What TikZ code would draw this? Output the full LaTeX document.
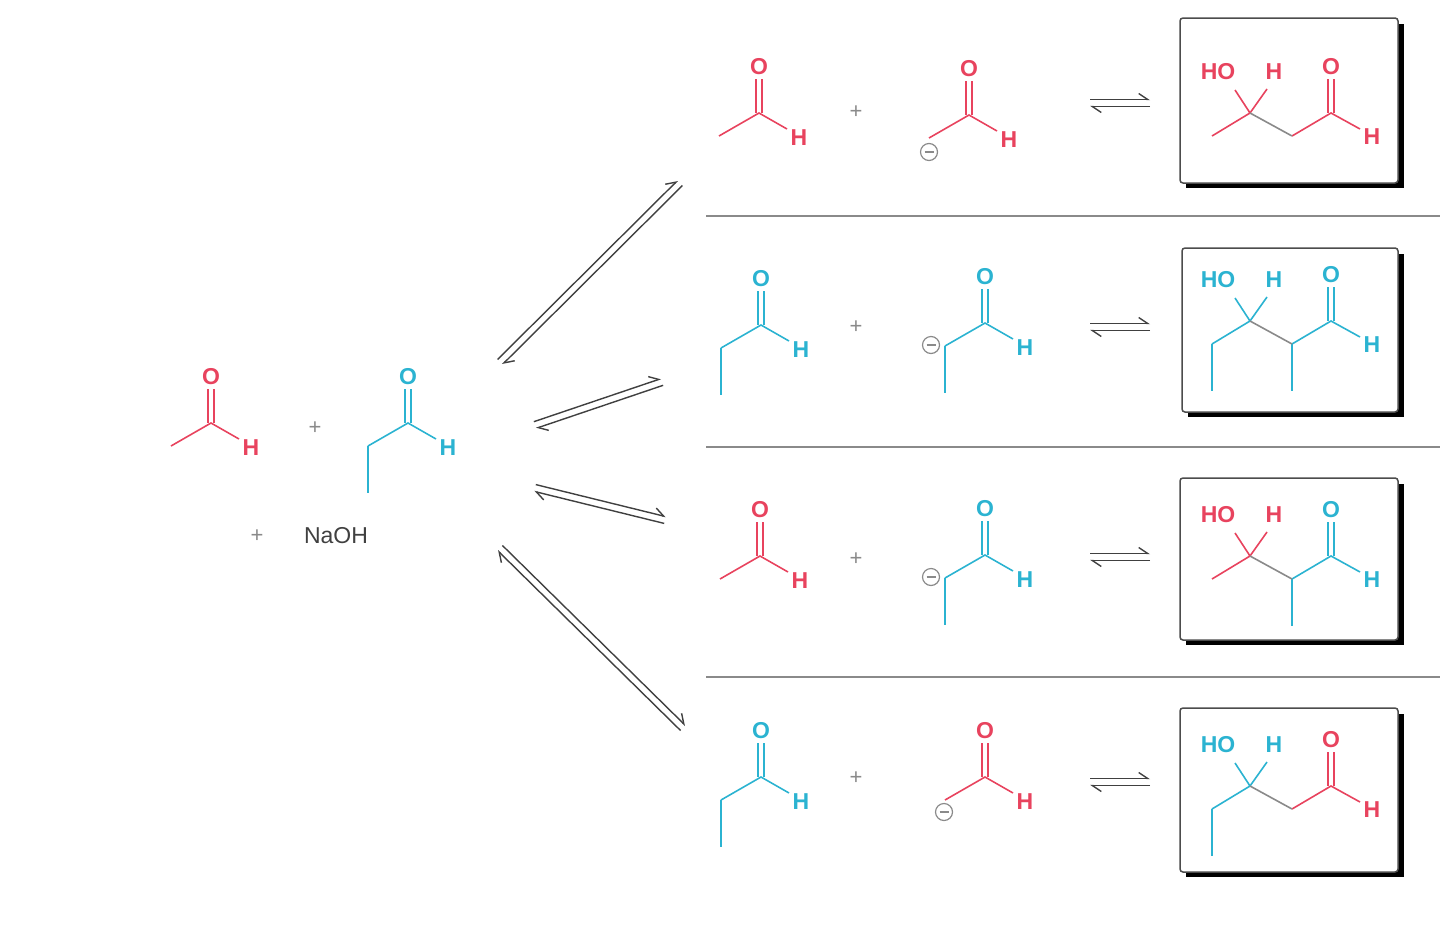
\documentclass[tikz,border=0pt]{standalone}
\usepackage{fontspec}
\setmainfont{Liberation Sans}
\usetikzlibrary{calc,arrows.meta}
\definecolor{mred}{HTML}{E8435E}
\definecolor{mcyan}{HTML}{2BB3D1}
\definecolor{lgray}{HTML}{8A8A8A}
\tikzset{
 bond/.style={line width=1.6},
 atom/.style={font=\fontsize{23}{23}\selectfont\bfseries,inner sep=0},
 minus/.style={circle,draw=lgray,line width=1.2,inner sep=0,minimum size=17,
   path picture={\draw[lgray,line width=1.2] ([xshift=4pt]path picture bounding box.west)--([xshift=-4pt]path picture bounding box.east);}},
 plus/.style={text=lgray,font=\fontsize{22}{22}\selectfont,inner sep=0},
 eqline/.style={line width=1.4,draw=black!75,-{Straight Barb[harpoon,length=9,width=12]}},
 sep/.style={line width=1.4,draw=lgray},
}
\newcommand\carb[5]{%
\begin{scope}[shift={(#2,#3)},color=#4]
\coordinate (#1c) at (0,0); \coordinate (#1m) at (-40,23); \coordinate (#1h) at (28,16);
\draw[bond] (#1m)--(#1c)--(#1h);
\draw[bond] (-3,0)--(-3,-34) (3,0)--(3,-34);
\node[atom] (#1o) at (0,-46) {O};
\node[atom] (#1H) at (40,25) {H};
\ifnum#5=1 \coordinate (#1e) at (-40,70); \draw[bond] (#1m)--(#1e);\fi
\end{scope}}
\newcommand\prodmol[7]{%
\begin{scope}[shift={(#2,#3)}]
\begin{scope}[color=#4]
\coordinate (#1a) at (0,0); \coordinate (#1l) at (-38,23);
\draw[bond] (#1l)--(#1a) (#1a)--(-15,-23) (#1a)--(17,-24);
\node[atom] (#1ho) at (-32,-41) {HO};
\node[atom] (#1h1) at (24,-41) {H};
\ifnum#6=1 \coordinate (#1le) at (-38,70); \draw[bond] (#1l)--(#1le);\fi
\end{scope}
\begin{scope}[color=#5]
\coordinate (#1b) at (42,23); \coordinate (#1c) at (81,0); \coordinate (#1d) at (110,16);
\draw[bond] (#1b)--(#1c)--(#1d);
\draw[bond] (78,0)--(78,-34) (84,0)--(84,-34);
\node[atom] (#1o) at (81,-46) {O};
\node[atom] (#1h2) at (122,24) {H};
\ifnum#7=1 \coordinate (#1bm) at (42,70); \draw[bond] (#1b)--(#1bm);\fi
\end{scope}
\draw[bond,lgray] (#1a)--(#1b);
\end{scope}}
\newcommand\pbox[5]{%
\fill[black] (#2+6,#3+6) rectangle (#4+6,#5+5);
\draw[fill=white,line width=1.5,draw=black!70,rounded corners=3] (#2,#3) rectangle (#4,#5);
\coordinate (#1) at (#2,#3);}
\newcommand\eqa[5]{%
\coordinate (#1a) at (#2,#3); \coordinate (#1b) at (#4,#5);
\draw[eqline] ($(#1a)!3.5pt!90:(#1b)$) -- ($(#1b)!3.5pt!-90:(#1a)$);
\draw[eqline] ($(#1b)!3.5pt!90:(#1a)$) -- ($(#1a)!3.5pt!-90:(#1b)$);}
\begin{document}
\begin{tikzpicture}[x=1pt,y=-1pt]
\useasboundingbox (0,0) rectangle (1440,924);
\carb{ra}{211}{423}{mred}{0}
\node[plus] (rp1) at (315,428) {+};
\carb{rb}{408}{423}{mcyan}{1}
\node[plus] (rp2) at (257,536) {+};
\node[text=black!75,font=\fontsize{23}{23}\selectfont,inner sep=0] (naoh) at (336,536) {NaOH};
\eqa{b1}{500}{362}{680}{183}
\eqa{b2}{535}{425}{662}{382}
\eqa{b3}{535}{488}{665}{520}
\eqa{b4}{500}{548}{683}{728}
\draw[sep] (706,216) -- (1440,216);
\draw[sep] (706,447) -- (1440,447);
\draw[sep] (706,677) -- (1440,677);
\carb{a1}{759}{113}{mred}{0}
\node[plus] (p1) at (856,112) {+};
\carb{e1}{969}{115}{mred}{0}
\node[minus] (m1) at (929,152) {};
\eqa{s1}{1090}{103}{1150}{103}
\pbox{x1}{1180}{18}{1398}{183}
\prodmol{q1}{1250}{113}{mred}{mred}{0}{0}
\carb{a2}{761}{325}{mcyan}{1}
\node[plus] (p2) at (856,327) {+};
\carb{e2}{985}{323}{mcyan}{1}
\node[minus] (m2) at (931,345) {};
\eqa{s2}{1090}{327}{1150}{327}
\pbox{x2}{1182}{248}{1398}{412}
\prodmol{q2}{1250}{321}{mcyan}{mcyan}{1}{1}
\carb{a3}{760}{556}{mred}{0}
\node[plus] (p3) at (856,559) {+};
\carb{e3}{985}{555}{mcyan}{1}
\node[minus] (m3) at (931,577) {};
\eqa{s3}{1090}{557}{1150}{557}
\pbox{x3}{1180}{478}{1398}{640}
\prodmol{q3}{1250}{556}{mred}{mcyan}{0}{1}
\carb{a4}{761}{777}{mcyan}{1}
\node[plus] (p4) at (856,778) {+};
\carb{e4}{985}{777}{mred}{0}
\node[minus] (m4) at (944,812) {};
\eqa{s4}{1090}{782}{1150}{782}
\pbox{x4}{1180}{708}{1398}{872}
\prodmol{q4}{1250}{786}{mcyan}{mred}{1}{0}
\end{tikzpicture}
\end{document}
